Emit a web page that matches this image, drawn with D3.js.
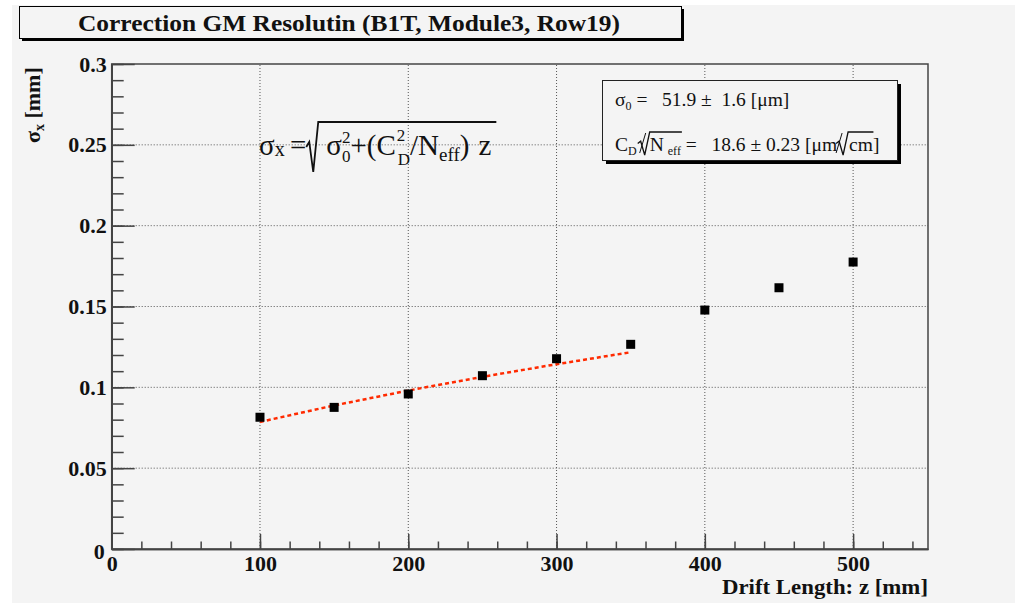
<!DOCTYPE html>
<html>
<head>
<meta charset="utf-8">
<script src="https://cdn.jsdelivr.net/npm/d3@7"></script>
<style>
  body { margin: 0; background: #fff; }
  svg { display: block; }
  text { font-family: "Liberation Serif", "Times New Roman", serif; white-space: pre; }
</style>
</head>
<body>
<div class="chart"></div>
<script>
// measured points
var driftLength = [100, 150, 200, 250, 300, 350, 400, 450, 500];
var sigmaX = [0.0815, 0.0876, 0.0959, 0.1072, 0.1177, 0.1266, 0.1478, 0.1616, 0.1775];
// fit curve
var fitZ = [100, 150, 200, 250, 300, 350];
var fitSigma = [0.0786, 0.0888, 0.0980, 0.1065, 0.1143, 0.1217];
// tick labels
var xTicks = [0, 100, 200, 300, 400, 500];
var yTicks = [0, 0.05, 0.1, 0.15, 0.2, 0.25, 0.3];

var width = 1015, height = 603;
var padL = 111.7, padR = 928, padT = 64, padB = 549;

var svg = d3.select(".chart").append("svg")
  .attr("width", width)
  .attr("height", height);

// canvas background
svg.append("rect")
  .attr("x", 12).attr("y", 5)
  .attr("width", width - 12).attr("height", height - 5)
  .attr("fill", "#f4f4f4");

var x = d3.scaleLinear().domain([0, 550.5]).range([padL, padR]);
var y = d3.scaleLinear().domain([0, 0.3]).range([padB, padT]);

// place pieces of text one after another, returns [start, end] of each
function layout(g, x0, y0, pieces) {
  var xc = x0, pos = [];
  pieces.forEach(function(p) {
    xc += p.gap || 0;
    var t = g.append("text")
      .attr("x", xc)
      .attr("y", y0 + (p.dy || 0))
      .attr("font-size", p.size)
      .attr("fill", "#111")
      .text(p.text);
    var w = t.node().getComputedTextLength();
    pos.push([xc, xc + w]);
    if (!p.stack) xc += w;
  });
  return pos;
}

// grid
var grid = svg.append("g")
  .attr("stroke", "#555")
  .attr("stroke-width", 1)
  .attr("stroke-dasharray", "1,2");
grid.selectAll(".gx").data(xTicks.slice(1)).enter().append("line")
  .attr("x1", function(d) { return x(d); })
  .attr("x2", function(d) { return x(d); })
  .attr("y1", padB).attr("y2", padT);
grid.selectAll(".gy").data(yTicks.slice(1, -1)).enter().append("line")
  .attr("y1", function(d) { return y(d); })
  .attr("y2", function(d) { return y(d); })
  .attr("x1", padL).attr("x2", padR);

// frame
svg.append("rect")
  .attr("x", padL).attr("y", padT)
  .attr("width", padR - padL).attr("height", padB - padT)
  .attr("fill", "none")
  .attr("stroke", "#444")
  .attr("stroke-width", 1.5);

// minor ticks
var xMinor = d3.range(0, 550, 20);
var yMinor = d3.range(0, 0.3001, 0.01);

var xAxisMinor = svg.append("g")
  .attr("transform", "translate(0," + padB + ")")
  .call(d3.axisBottom(x).tickValues(xMinor).tickSizeInner(-7.5).tickSizeOuter(0).tickFormat(""));
var yAxisMinor = svg.append("g")
  .attr("transform", "translate(" + padL + ",0)")
  .call(d3.axisLeft(y).tickValues(yMinor).tickSizeInner(-12).tickSizeOuter(0).tickFormat(""));

var xAxis = svg.append("g")
  .attr("transform", "translate(0," + padB + ")")
  .call(d3.axisBottom(x).tickValues(xTicks).tickSizeInner(-15).tickSizeOuter(0).tickPadding(7)
    .tickFormat(function(d) { return String(d); }));
var yAxis = svg.append("g")
  .attr("transform", "translate(" + padL + ",0)")
  .call(d3.axisLeft(y).tickValues(yTicks).tickSizeInner(-23).tickSizeOuter(0).tickPadding(5)
    .tickFormat(function(d) { return String(+d.toFixed(2)); }));

[xAxisMinor, yAxisMinor, xAxis, yAxis].forEach(function(a) {
  a.select(".domain").attr("stroke", "#444").attr("stroke-width", 1.5);
  a.selectAll(".tick line").attr("stroke", "#444").attr("stroke-width", 1.5);
  a.selectAll("text")
    .attr("font-family", "Liberation Serif")
    .attr("font-weight", "bold")
    .attr("font-size", 22)
    .attr("fill", "#111");
});
xAxis.selectAll(".tick text").attr("dy", "0.66em");
yAxis.selectAll(".tick").filter(function(d) { return d === 0; }).select("text").attr("dy", "0.45em").attr("x", -7);

// axis titles
svg.append("text")
  .attr("x", padR).attr("y", 594)
  .attr("text-anchor", "end")
  .attr("font-weight", "bold")
  .attr("font-size", 22)
  .attr("textLength", 206)
  .attr("lengthAdjust", "spacingAndGlyphs")
  .attr("fill", "#111")
  .text("Drift Length: z [mm]");

var yt = svg.append("text")
  .attr("transform", "translate(40,143) rotate(-90)")
  .attr("font-weight", "bold")
  .attr("font-size", 22)
  .attr("fill", "#111");
yt.append("tspan").text("σ");
yt.append("tspan").attr("font-size", 14).attr("dy", 4).text("x");
yt.append("tspan").attr("dy", -4).text(" [mm]");

// fit curve
var line = d3.line()
  .x(function(d, i) { return x(fitZ[i]); })
  .y(function(d) { return y(d); });
svg.append("path")
  .attr("d", line(fitSigma))
  .attr("fill", "none")
  .attr("stroke", "#ff2a00")
  .attr("stroke-width", 2.5)
  .attr("stroke-dasharray", "4,3");

// markers
svg.selectAll(".pt").data(sigmaX).enter().append("rect")
  .attr("x", function(d, i) { return x(driftLength[i]) - 4.5; })
  .attr("y", function(d) { return y(d) - 4.5; })
  .attr("width", 9).attr("height", 9)
  .attr("fill", "#000");

// title box
svg.append("rect").attr("x", 22).attr("y", 9).attr("width", 662).attr("height", 32).attr("fill", "#000");
svg.append("rect").attr("x", 19.5).attr("y", 6.5).attr("width", 662).attr("height", 32)
  .attr("fill", "#f4f4f4").attr("stroke", "#000").attr("stroke-width", 1);
svg.append("text")
  .attr("x", 78).attr("y", 31)
  .attr("font-weight", "bold")
  .attr("font-size", 24)
  .attr("textLength", 542)
  .attr("lengthAdjust", "spacingAndGlyphs")
  .attr("fill", "#111")
  .text("Correction GM Resolutin (B1T, Module3, Row19)");

// stats box
svg.append("rect").attr("x", 606).attr("y", 84).attr("width", 295).attr("height", 80).attr("fill", "#000");
svg.append("rect").attr("x", 602.5).attr("y", 80.5).attr("width", 295).attr("height", 80)
  .attr("fill", "#f4f4f4").attr("stroke", "#222").attr("stroke-width", 1);

var stats = svg.append("g");
layout(stats, 615, 106, [
  { text: "σ", size: 19.5 },
  { text: "0", size: 12, dy: 4 },
  { text: " =   51.9 ±  1.6 [μm]", size: 19.5 }
]);
var p2 = layout(stats, 615, 151, [
  { text: "C", size: 19.5 },
  { text: "D", size: 12, dy: 4 },
  { text: "N", size: 19.5, gap: 13 },
  { text: "eff", size: 12, dy: 4, gap: 4 },
  { text: " =   18.6 ± 0.23 [μm", size: 19.5 },
  { text: "cm]", size: 19.5, gap: 12 }
]);
function radical(a, b, yTop, yBot) {
  var h = yBot - yTop;
  return "M" + (a - 3) + "," + (yTop + h * 0.5) + " L" + a + "," + (yTop + h * 0.4) +
    " L" + (a + 4) + "," + yBot + " L" + (a + 9) + "," + yTop + " L" + b + "," + yTop;
}
// slash merged with the radical
stats.append("path")
  .attr("d", "M" + (p2[1][1] + 3) + ",153 L" + (p2[1][1] + 9) + ",133")
  .attr("stroke", "#111").attr("stroke-width", 1);
stats.append("path")
  .attr("d", radical(p2[2][0] - 9, p2[3][1] + 1, 132, 155))
  .attr("fill", "none").attr("stroke", "#111").attr("stroke-width", 1.3);
stats.append("path")
  .attr("d", "M" + (p2[4][1] - 1) + ",153 L" + (p2[4][1] + 5) + ",133")
  .attr("stroke", "#111").attr("stroke-width", 1);
stats.append("path")
  .attr("d", radical(p2[5][0] - 10, p2[5][1] - 6, 132, 155))
  .attr("fill", "none").attr("stroke", "#111").attr("stroke-width", 1.3);

// formula
var formula = svg.append("g");
var fp = layout(formula, 259, 155, [
  { text: "σ", size: 29 },
  { text: "x", size: 20, dy: 1 },
  { text: " =", size: 29, gap: -2 },
  { text: "σ", size: 29, gap: 20 },
  { text: "2", size: 17, dy: -12, stack: true },
  { text: "0", size: 17, dy: 7 },
  { text: "+(C", size: 29 },
  { text: "2", size: 17, dy: -14, stack: true, gap: 1 },
  { text: "D", size: 17, dy: 10, gap: 1 },
  { text: "/N", size: 29 },
  { text: "eff", size: 19, dy: 6 },
  { text: ")", size: 29 },
  { text: "z", size: 29, gap: 9 }
]);
formula.append("path")
  .attr("d", radical(fp[3][0] - 17, fp[12][1] + 5, 122, 172))
  .attr("fill", "none").attr("stroke", "#111").attr("stroke-width", 1.8);
</script>
</body>
</html>
